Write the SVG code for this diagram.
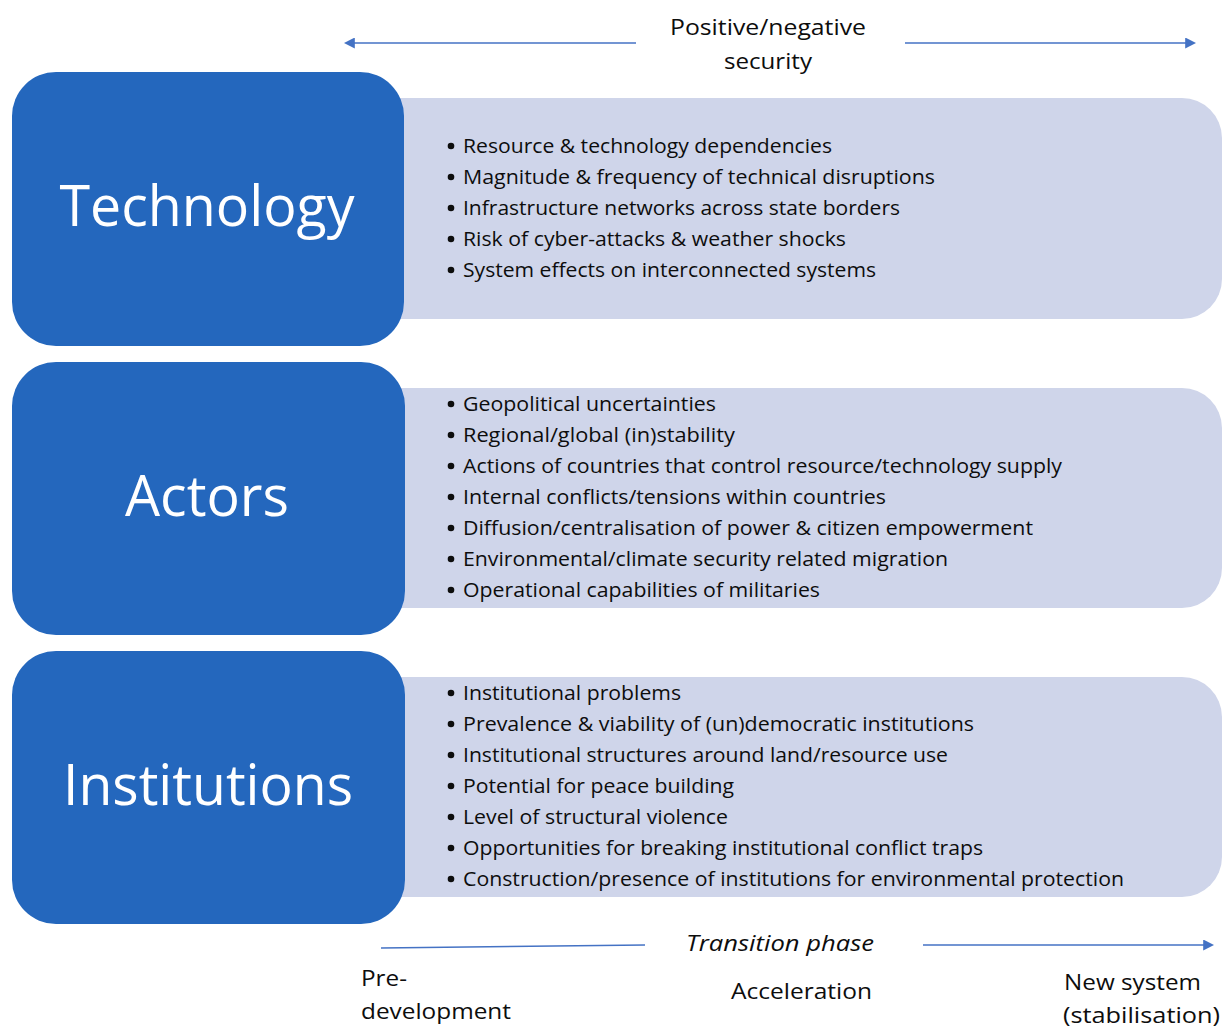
<svg xmlns="http://www.w3.org/2000/svg" width="1222" height="1027" viewBox="0 0 1222 1027">
  <style>
    .panel { fill: #CFD5EA; }
    .box { fill: #2467BD; }
    .big { font-family: "Open Sans", "Liberation Sans", sans-serif; font-size: 57px; fill: #FFFFFF; text-anchor: middle; }
    .item { font-family: "Open Sans", "Liberation Sans", sans-serif; font-size: 19.5px; fill: #0D0D0D; }
    .dot { fill: #0D0D0D; }
    .axis { font-family: "Open Sans", "Liberation Sans", sans-serif; font-size: 22px; fill: #0D0D0D; }
    .line { stroke: #4472C4; stroke-width: 1.6; fill: none; }
  </style>
  <defs>
    <marker id="arrowhead" viewBox="0 0 10 10" refX="8" refY="5" markerWidth="11" markerHeight="11" markerUnits="userSpaceOnUse" orient="auto-start-reverse">
      <path d="M0,0 L10,5 L0,10 Z" fill="#4472C4"/>
    </marker>
  </defs>
  <rect width="1222" height="1027" fill="#FFFFFF"/>

  <!-- axis connectors -->
  <g id="connectors">
    <line class="line" x1="636" y1="43" x2="346" y2="43" marker-end="url(#arrowhead)"/>
    <line class="line" x1="905" y1="43" x2="1194" y2="43" marker-end="url(#arrowhead)"/>
    <line class="line" x1="381" y1="948" x2="645" y2="945"/>
    <line class="line" x1="923" y1="945" x2="1212" y2="945" marker-end="url(#arrowhead)"/>
  </g>

  <g id="axis-labels">
    <text class="axis" x="768" y="35" text-anchor="middle" textLength="196" lengthAdjust="spacingAndGlyphs">Positive/negative</text>
    <text class="axis" x="768" y="69" text-anchor="middle" textLength="88" lengthAdjust="spacingAndGlyphs">security</text>
    <text class="axis" x="780" y="951" text-anchor="middle" font-style="italic" textLength="188" lengthAdjust="spacingAndGlyphs">Transition phase</text>
    <text class="axis" x="361" y="986" textLength="46" lengthAdjust="spacingAndGlyphs">Pre-</text>
    <text class="axis" x="361" y="1019" textLength="150" lengthAdjust="spacingAndGlyphs">development</text>
    <text class="axis" x="731" y="999" textLength="141" lengthAdjust="spacingAndGlyphs">Acceleration</text>
    <text class="axis" x="1064" y="990" textLength="137" lengthAdjust="spacingAndGlyphs">New system</text>
    <text class="axis" x="1063" y="1023" textLength="157" lengthAdjust="spacingAndGlyphs">(stabilisation)</text>
  </g>

  <!-- Technology -->
  <g id="technology">
    <path class="panel" d="M380,98 H1182 A40,40 0 0 1 1222,138 V279 A40,40 0 0 1 1182,319 H380 Z"/>
    <rect class="box" x="12" y="72" width="392" height="274" rx="44" ry="44"/>
    <text class="big" x="207" y="226" textLength="295" lengthAdjust="spacingAndGlyphs">Technology</text>
    <g>
      <circle class="dot" cx="451" cy="146" r="3.3"/>
      <circle class="dot" cx="451" cy="177" r="3.3"/>
      <circle class="dot" cx="451" cy="208" r="3.3"/>
      <circle class="dot" cx="451" cy="239" r="3.3"/>
      <circle class="dot" cx="451" cy="270" r="3.3"/>
    </g>
    <text class="item" x="463" y="153" textLength="369" lengthAdjust="spacingAndGlyphs">Resource &amp; technology dependencies</text>
    <text class="item" x="463" y="184" textLength="472" lengthAdjust="spacingAndGlyphs">Magnitude &amp; frequency of technical disruptions</text>
    <text class="item" x="463" y="215" textLength="437" lengthAdjust="spacingAndGlyphs">Infrastructure networks across state borders</text>
    <text class="item" x="463" y="246" textLength="383" lengthAdjust="spacingAndGlyphs">Risk of cyber-attacks &amp; weather shocks</text>
    <text class="item" x="463" y="277" textLength="413" lengthAdjust="spacingAndGlyphs">System effects on interconnected systems</text>
  </g>

  <!-- Actors -->
  <g id="actors">
    <path class="panel" d="M380,388 H1182 A40,40 0 0 1 1222,428 V568 A40,40 0 0 1 1182,608 H380 Z"/>
    <rect class="box" x="12" y="362" width="393" height="273" rx="44" ry="44"/>
    <text class="big" x="207" y="516" textLength="164" lengthAdjust="spacingAndGlyphs">Actors</text>
    <g>
      <circle class="dot" cx="451" cy="404" r="3.3"/>
      <circle class="dot" cx="451" cy="435" r="3.3"/>
      <circle class="dot" cx="451" cy="466" r="3.3"/>
      <circle class="dot" cx="451" cy="497" r="3.3"/>
      <circle class="dot" cx="451" cy="528" r="3.3"/>
      <circle class="dot" cx="451" cy="559" r="3.3"/>
      <circle class="dot" cx="451" cy="590" r="3.3"/>
    </g>
    <text class="item" x="463" y="411" textLength="253" lengthAdjust="spacingAndGlyphs">Geopolitical uncertainties</text>
    <text class="item" x="463" y="442" textLength="272" lengthAdjust="spacingAndGlyphs">Regional/global (in)stability</text>
    <text class="item" x="463" y="473" textLength="599" lengthAdjust="spacingAndGlyphs">Actions of countries that control resource/technology supply</text>
    <text class="item" x="463" y="504" textLength="423" lengthAdjust="spacingAndGlyphs">Internal conflicts/tensions within countries</text>
    <text class="item" x="463" y="535" textLength="570" lengthAdjust="spacingAndGlyphs">Diffusion/centralisation of power &amp; citizen empowerment</text>
    <text class="item" x="463" y="566" textLength="485" lengthAdjust="spacingAndGlyphs">Environmental/climate security related migration</text>
    <text class="item" x="463" y="597" textLength="357" lengthAdjust="spacingAndGlyphs">Operational capabilities of militaries</text>
  </g>

  <!-- Institutions -->
  <g id="institutions">
    <path class="panel" d="M380,677 H1182 A40,40 0 0 1 1222,717 V857 A40,40 0 0 1 1182,897 H380 Z"/>
    <rect class="box" x="12" y="651" width="393" height="273" rx="44" ry="44"/>
    <text class="big" x="208" y="805" textLength="290" lengthAdjust="spacingAndGlyphs">Institutions</text>
    <g>
      <circle class="dot" cx="451" cy="693" r="3.3"/>
      <circle class="dot" cx="451" cy="724" r="3.3"/>
      <circle class="dot" cx="451" cy="755" r="3.3"/>
      <circle class="dot" cx="451" cy="786" r="3.3"/>
      <circle class="dot" cx="451" cy="817" r="3.3"/>
      <circle class="dot" cx="451" cy="848" r="3.3"/>
      <circle class="dot" cx="451" cy="879" r="3.3"/>
    </g>
    <text class="item" x="463" y="700" textLength="218" lengthAdjust="spacingAndGlyphs">Institutional problems</text>
    <text class="item" x="463" y="731" textLength="511" lengthAdjust="spacingAndGlyphs">Prevalence &amp; viability of (un)democratic institutions</text>
    <text class="item" x="463" y="762" textLength="485" lengthAdjust="spacingAndGlyphs">Institutional structures around land/resource use</text>
    <text class="item" x="463" y="793" textLength="271" lengthAdjust="spacingAndGlyphs">Potential for peace building</text>
    <text class="item" x="463" y="824" textLength="265" lengthAdjust="spacingAndGlyphs">Level of structural violence</text>
    <text class="item" x="463" y="855" textLength="520" lengthAdjust="spacingAndGlyphs">Opportunities for breaking institutional conflict traps</text>
    <text class="item" x="463" y="886" textLength="661" lengthAdjust="spacingAndGlyphs">Construction/presence of institutions for environmental protection</text>
  </g>
</svg>
